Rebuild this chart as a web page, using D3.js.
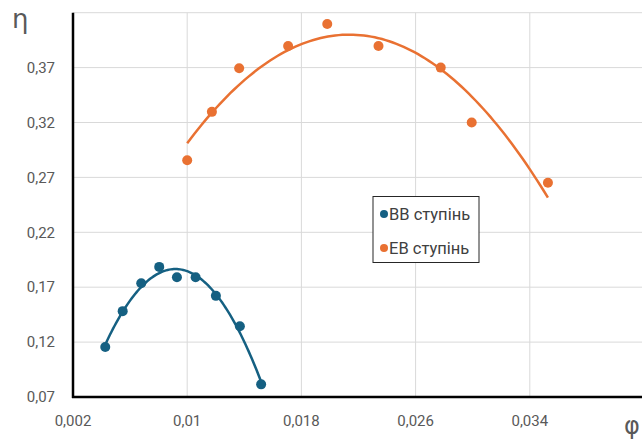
<!DOCTYPE html>
<html>
<head>
<meta charset="utf-8">
<script src="https://cdn.jsdelivr.net/npm/d3@7"></script>
<style>
  html, body { margin: 0; padding: 0; background: #fff; }
  svg text { font-family: Roboto, "Noto Sans", sans-serif; }
</style>
</head>
<body>
<div id="chart"></div>
<script>
// ---- data ----
const bbPhi = [0.00426, 0.00548, 0.00678, 0.00804, 0.00928, 0.01059, 0.01201, 0.01369, 0.01518];
const bbEta = [0.1155, 0.1482, 0.1736, 0.1885, 0.1790, 0.1790, 0.1621, 0.1345, 0.0815];
const ebPhi = [0.0100, 0.01173, 0.01364, 0.01707, 0.01981, 0.0234, 0.02776, 0.02993, 0.03527];
const ebEta = [0.2857, 0.3297, 0.3694, 0.3897, 0.4097, 0.3897, 0.3700, 0.3200, 0.2652];
const xTicks = [0.002, 0.01, 0.018, 0.026, 0.034];
const yTicks = [0.07, 0.12, 0.17, 0.22, 0.27, 0.32, 0.37, 0.42];
const seriesNames = ['ВВ ступінь', 'ЕВ ступінь'];

const W = 642, H = 448;
const margin = { top: 12.7, right: -2, bottom: 51, left: 73 };
const colors = ['#156082', '#E97132'];

const svg = d3.select('#chart').append('svg')
  .attr('width', W).attr('height', H);

const x = d3.scaleLinear().domain([0.002, 0.042]).range([margin.left, W - margin.right]);
const y = d3.scaleLinear().domain([0.07, 0.42]).range([H - margin.bottom, margin.top]);

const fmt = v => d3.format('.3~f')(v).replace('.', ',');

// gridlines
svg.append('g').selectAll('line').data(xTicks.slice(1)).join('line')
  .attr('x1', d => x(d)).attr('x2', d => x(d))
  .attr('y1', y(0.42)).attr('y2', y(0.07))
  .attr('stroke', '#d9d9d9').attr('stroke-width', 1);
svg.append('g').selectAll('line').data(yTicks.slice(1)).join('line')
  .attr('x1', x(0.002)).attr('x2', W)
  .attr('y1', d => y(d)).attr('y2', d => y(d))
  .attr('stroke', '#d9d9d9').attr('stroke-width', 1);

// axis lines
svg.append('line')
  .attr('x1', x(0.002)).attr('x2', x(0.002))
  .attr('y1', y(0.42)).attr('y2', y(0.07) + 1)
  .attr('stroke', '#000').attr('stroke-width', 2.5);
svg.append('line')
  .attr('x1', x(0.002) - 1).attr('x2', W)
  .attr('y1', y(0.07)).attr('y2', y(0.07))
  .attr('stroke', '#000').attr('stroke-width', 2.5);

// tick labels
svg.append('g').selectAll('text').data(yTicks.slice(0, -1)).join('text')
  .attr('x', 55).attr('y', d => y(d)).attr('dy', '0.35em')
  .attr('text-anchor', 'end').attr('font-size', '15px').attr('fill', '#595959')
  .text(fmt);
svg.append('g').selectAll('text').data(xTicks).join('text')
  .attr('x', d => x(d)).attr('y', 421).attr('dy', '0.35em')
  .attr('text-anchor', 'middle').attr('font-size', '15px').attr('fill', '#595959')
  .text(fmt);

// axis titles
svg.append('text').attr('x', 12).attr('y', 28)
  .attr('font-size', '26px').attr('fill', '#595959')
  .style('font-family', '"DejaVu Sans", sans-serif').text('η');
svg.append('text').attr('x', 624).attr('y', 434)
  .attr('font-size', '24px').attr('fill', '#595959')
  .style('font-family', '"DejaVu Sans", sans-serif').text('φ');

// least-squares polynomial trendline
function polyFit(xs, ys, deg) {
  const n = deg + 1;
  const A = Array.from({ length: n }, () => new Array(n + 1).fill(0));
  xs.forEach((xv, k) => {
    for (let i = 0; i < n; i++) {
      for (let j = 0; j < n; j++) A[i][j] += Math.pow(xv, i + j);
      A[i][n] += ys[k] * Math.pow(xv, i);
    }
  });
  for (let c = 0; c < n; c++) {
    let p = c;
    for (let r = c + 1; r < n; r++) if (Math.abs(A[r][c]) > Math.abs(A[p][c])) p = r;
    [A[c], A[p]] = [A[p], A[c]];
    for (let r = 0; r < n; r++) {
      if (r === c) continue;
      const f = A[r][c] / A[c][c];
      for (let k = c; k <= n; k++) A[r][k] -= f * A[c][k];
    }
  }
  const coef = A.map((row, i) => row[n] / row[i]);
  return v => coef.reduce((s, c, i) => s + c * Math.pow(v, i), 0);
}

const line = d3.line().x(d => x(d[0])).y(d => y(d[1]));

[[bbPhi, bbEta], [ebPhi, ebEta]].forEach(([px, py], si) => {
  const f = polyFit(px, py, 2);
  const x0 = d3.min(px), x1 = d3.max(px);
  const pts = d3.range(0, 101).map(i => {
    const v = x0 + (x1 - x0) * i / 100;
    return [v, f(v)];
  });
  svg.append('path').datum(pts)
    .attr('d', line).attr('fill', 'none')
    .attr('stroke', colors[si]).attr('stroke-width', 2.5);
  svg.append('g').selectAll('circle').data(px).join('circle')
    .attr('cx', d => x(d)).attr('cy', (d, i) => y(py[i]))
    .attr('r', 5).attr('fill', colors[si]);
});

// legend
const lg = svg.append('g');
lg.append('rect').attr('x', 373).attr('y', 196.5).attr('width', 106).attr('height', 66)
  .attr('fill', '#fff').attr('stroke', '#262626').attr('stroke-width', 1);
seriesNames.forEach((name, i) => {
  const cy = 214 + i * 34;
  lg.append('circle').attr('cx', 384).attr('cy', cy).attr('r', 4).attr('fill', colors[i]);
  lg.append('text').attr('x', 389).attr('y', cy).attr('dy', '0.35em')
    .attr('font-size', '16.5px').attr('fill', '#404040').text(name);
});
</script>
</body>
</html>
